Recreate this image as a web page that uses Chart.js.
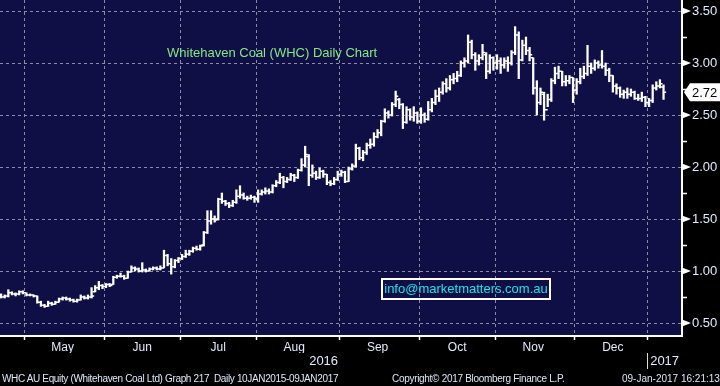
<!DOCTYPE html>
<html>
<head>
<meta charset="utf-8">
<script src="https://cdn.jsdelivr.net/npm/chart.js@4.4.0/dist/chart.umd.min.js"></script>
<style>
  html, body { margin: 0; padding: 0; background: #000; }
  #wrap { position: relative; width: 720px; height: 386px; overflow: hidden; background: #000; }
  #chart { display: block; }
  .txt { position: absolute; font-family: Arial, "Liberation Sans", sans-serif; white-space: nowrap; }
  #title { left: 167px; top: 45px; font-size: 13px; line-height: 16px; color: #84e884; }
  #info { left: 381px; top: 278px; width: 170px; height: 22px; box-sizing: border-box; border: 2px solid #fff;
          color: #1ee3e8; font-size: 13px; line-height: 18px; text-align: center; }
  .foot { top: 373px; font-size: 10px; line-height: 12px; color: #dfe6f6; }
</style>
</head>
<body>
<div id="wrap">
  <canvas id="chart" width="720" height="386"></canvas>
  <div id="title" class="txt">Whitehaven Coal (WHC) Daily Chart</div>
  <div id="info" class="txt">info@marketmatters.com.au</div>
  <div class="txt foot" style="left:2px; letter-spacing:-0.35px">WHC AU Equity (Whitehaven Coal Ltd) Graph 217&nbsp; Daily 10JAN2015-09JAN2017</div>
  <div class="txt foot" style="left:392px; letter-spacing:-0.3px">Copyright&copy; 2017 Bloomberg Finance L.P.</div>
  <div class="txt foot" style="left:622px">09-Jan-2017 16:21:13</div>
</div>
<script>
// daily bars, 20 Apr 2016 - 9 Jan 2017 (trading days)
const opens = [
  0.76, 0.75, 0.76, 0.79, 0.78, 0.78, 0.80, 0.79, 0.77, 0.77,
  0.76, 0.70, 0.67, 0.66, 0.69, 0.68, 0.70, 0.73, 0.74, 0.73,
  0.72, 0.71, 0.72, 0.75, 0.74, 0.75, 0.80, 0.84, 0.86, 0.85,
  0.87, 0.87, 0.94, 0.95, 0.95, 0.93, 0.99, 1.03, 1.02, 1.00,
  1.01, 1.00, 1.02, 1.03, 1.02, 1.03, 1.15, 1.07, 1.04, 1.10,
  1.12, 1.14, 1.16, 1.19, 1.22, 1.21, 1.25, 1.37, 1.48, 1.50,
  1.50, 1.69, 1.67, 1.65, 1.63, 1.66, 1.72, 1.73, 1.70, 1.70,
  1.71, 1.69, 1.74, 1.76, 1.77, 1.76, 1.82, 1.85, 1.90, 1.86,
  1.88, 1.92, 1.90, 1.97, 2.02, 2.10, 1.92, 1.94, 1.90, 1.96,
  1.93, 1.85, 1.84, 1.88, 1.93, 1.95, 1.86, 1.98, 2.01, 2.18,
  2.09, 2.14, 2.21, 2.22, 2.29, 2.33, 2.44, 2.52, 2.50, 2.60,
  2.65, 2.60, 2.43, 2.55, 2.48, 2.52, 2.44, 2.50, 2.46, 2.55,
  2.62, 2.68, 2.72, 2.80, 2.76, 2.84, 2.85, 2.88, 3.00, 3.02,
  3.20, 3.08, 3.02, 3.05, 3.08, 2.92, 3.05, 3.00, 3.02, 2.98,
  3.02, 3.00, 3.10, 3.27, 3.03, 3.17, 3.12, 3.05, 2.76, 2.62,
  2.70, 2.55, 2.65, 2.83, 2.90, 2.92, 2.82, 2.83, 2.86, 2.74,
  2.82, 2.87, 2.90, 2.97, 2.95, 3.00, 2.98, 2.97, 2.93, 2.88,
  2.78, 2.76, 2.70, 2.72, 2.70, 2.72, 2.66, 2.66, 2.67, 2.62,
  2.64, 2.76, 2.78, 2.77
];
const highs = [
  0.78, 0.77, 0.82, 0.80, 0.79, 0.81, 0.81, 0.79, 0.78, 0.77,
  0.76, 0.71, 0.68, 0.71, 0.70, 0.71, 0.74, 0.75, 0.75, 0.74,
  0.73, 0.73, 0.77, 0.76, 0.77, 0.84, 0.86, 0.90, 0.87, 0.88,
  0.88, 0.95, 0.96, 0.98, 0.96, 1.00, 1.05, 1.04, 1.03, 1.08,
  1.02, 1.03, 1.04, 1.04, 1.05, 1.20, 1.16, 1.12, 1.11, 1.13,
  1.16, 1.20, 1.20, 1.23, 1.24, 1.25, 1.38, 1.58, 1.58, 1.53,
  1.70, 1.75, 1.68, 1.66, 1.68, 1.78, 1.82, 1.75, 1.72, 1.73,
  1.72, 1.78, 1.78, 1.80, 1.79, 1.83, 1.87, 1.94, 1.91, 1.90,
  1.94, 1.93, 1.98, 2.08, 2.20, 2.12, 2.02, 1.96, 1.99, 1.97,
  1.93, 1.87, 1.90, 1.96, 1.97, 1.96, 2.00, 2.03, 2.22, 2.19,
  2.16, 2.23, 2.27, 2.33, 2.36, 2.45, 2.56, 2.54, 2.62, 2.73,
  2.66, 2.61, 2.58, 2.56, 2.58, 2.53, 2.57, 2.52, 2.63, 2.66,
  2.74, 2.76, 2.82, 2.85, 2.88, 2.90, 2.92, 3.02, 3.05, 3.27,
  3.22, 3.10, 3.08, 3.18, 3.10, 3.08, 3.06, 3.08, 3.05, 3.05,
  3.06, 3.12, 3.35, 3.30, 3.22, 3.25, 3.15, 3.05, 2.83, 2.76,
  2.72, 2.70, 2.85, 2.96, 2.97, 2.92, 2.88, 2.88, 2.86, 2.85,
  2.95, 2.97, 3.17, 3.00, 3.03, 3.02, 3.12, 3.00, 2.95, 2.88,
  2.80, 2.77, 2.74, 2.76, 2.75, 2.73, 2.70, 2.72, 2.68, 2.66,
  2.79, 2.82, 2.84, 2.79
];
const lows = [
  0.74, 0.74, 0.75, 0.77, 0.76, 0.77, 0.78, 0.76, 0.76, 0.75,
  0.69, 0.66, 0.65, 0.66, 0.67, 0.68, 0.70, 0.72, 0.72, 0.71,
  0.70, 0.70, 0.72, 0.73, 0.73, 0.74, 0.80, 0.82, 0.83, 0.84,
  0.85, 0.87, 0.93, 0.94, 0.92, 0.93, 0.99, 1.00, 0.99, 0.99,
  0.99, 1.00, 1.01, 1.01, 1.01, 1.03, 1.05, 0.97, 1.03, 1.08,
  1.11, 1.13, 1.15, 1.18, 1.20, 1.20, 1.24, 1.36, 1.45, 1.47,
  1.49, 1.65, 1.63, 1.61, 1.62, 1.65, 1.70, 1.69, 1.68, 1.69,
  1.66, 1.66, 1.73, 1.74, 1.74, 1.75, 1.81, 1.84, 1.80, 1.85,
  1.87, 1.86, 1.89, 1.96, 2.00, 1.82, 1.90, 1.88, 1.89, 1.90,
  1.83, 1.82, 1.83, 1.87, 1.91, 1.85, 1.86, 1.97, 2.00, 2.07,
  2.06, 2.12, 2.18, 2.20, 2.28, 2.30, 2.43, 2.47, 2.49, 2.58,
  2.56, 2.37, 2.42, 2.45, 2.44, 2.42, 2.42, 2.43, 2.45, 2.53,
  2.60, 2.63, 2.70, 2.72, 2.74, 2.80, 2.82, 2.87, 2.96, 3.00,
  3.04, 2.93, 2.98, 3.03, 2.85, 2.90, 2.93, 2.94, 2.90, 2.95,
  2.92, 2.98, 3.08, 2.85, 3.02, 3.08, 3.02, 2.70, 2.50, 2.60,
  2.45, 2.58, 2.63, 2.80, 2.85, 2.78, 2.78, 2.80, 2.62, 2.70,
  2.80, 2.85, 2.88, 2.90, 2.93, 2.95, 2.95, 2.88, 2.82, 2.72,
  2.70, 2.67, 2.66, 2.66, 2.68, 2.65, 2.64, 2.63, 2.58, 2.58,
  2.62, 2.74, 2.76, 2.65
];
const closes = [
  0.75, 0.76, 0.79, 0.78, 0.78, 0.80, 0.79, 0.77, 0.77, 0.76,
  0.70, 0.67, 0.66, 0.69, 0.68, 0.70, 0.73, 0.74, 0.73, 0.72,
  0.71, 0.72, 0.75, 0.74, 0.75, 0.76, 0.84, 0.86, 0.85, 0.87,
  0.86, 0.94, 0.95, 0.95, 0.93, 0.99, 1.03, 1.02, 1.00, 1.01,
  1.00, 1.02, 1.03, 1.02, 1.03, 1.15, 1.07, 1.04, 1.10, 1.12,
  1.14, 1.16, 1.19, 1.22, 1.21, 1.24, 1.37, 1.48, 1.50, 1.49,
  1.69, 1.67, 1.65, 1.63, 1.66, 1.72, 1.73, 1.70, 1.70, 1.71,
  1.70, 1.74, 1.76, 1.77, 1.76, 1.82, 1.85, 1.90, 1.86, 1.88,
  1.92, 1.90, 1.97, 2.02, 2.12, 1.92, 1.94, 1.90, 1.96, 1.93,
  1.85, 1.84, 1.88, 1.93, 1.95, 1.86, 1.98, 2.01, 2.18, 2.09,
  2.14, 2.21, 2.22, 2.29, 2.33, 2.44, 2.52, 2.50, 2.60, 2.68,
  2.60, 2.43, 2.55, 2.48, 2.52, 2.44, 2.50, 2.46, 2.55, 2.62,
  2.68, 2.72, 2.80, 2.76, 2.84, 2.85, 2.88, 3.00, 3.02, 3.20,
  3.08, 3.02, 3.05, 3.10, 2.92, 3.05, 3.00, 3.02, 2.98, 3.02,
  3.00, 3.10, 3.27, 3.03, 3.17, 3.12, 3.08, 2.76, 2.62, 2.72,
  2.55, 2.65, 2.83, 2.90, 2.92, 2.82, 2.83, 2.86, 2.74, 2.82,
  2.87, 2.90, 2.97, 2.95, 3.00, 2.98, 2.97, 2.93, 2.88, 2.78,
  2.76, 2.70, 2.72, 2.70, 2.72, 2.66, 2.66, 2.67, 2.62, 2.64,
  2.76, 2.78, 2.80, 2.72
];

// first trading day of each month (bar index) and its label
const monthStarts = [7, 29, 50, 71, 94, 116, 137, 159, 179];
const monthLabels = ['May', 'Jun', 'Jul', 'Aug', 'Sep', 'Oct', 'Nov', 'Dec', ''];
const yearLabels = ['2016', '2017'];
const yTicks = [0.50, 0.75, 1.00, 1.25, 1.50, 1.75, 2.00, 2.25, 2.50, 2.75, 3.00, 3.25, 3.50];

const X_MIN = -0.3;
const X_MAX = 188.1;
const GRID = '#8c8ca8';
const LABEL = '#e4eaff';
const FONT = 'Arial, "Liberation Sans", sans-serif';

const janLine = monthStarts[monthStarts.length - 1] - 0.5;
const yearTicks = [(X_MIN + janLine) / 2, janLine, (janLine + X_MAX) / 2];
const yearTickLabels = [yearLabels[0], '', yearLabels[1]];

const isMajor = v => Math.abs(v * 2 - Math.round(v * 2)) < 1e-6;

// no extra room for half labels at the edges
function noPad(s) {
  s.paddingTop = 0; s.paddingBottom = 0; s.paddingLeft = 0; s.paddingRight = 0;
}

const ohlcPlugin = {
  id: 'ohlc',
  beforeDraw(chart) {
    const { ctx, chartArea: a } = chart;
    ctx.save();
    ctx.fillStyle = '#0f0f45';
    ctx.fillRect(a.left, a.top, a.right - a.left, a.bottom - a.top);
    ctx.restore();
  },
  afterDatasetsDraw(chart) {
    const { ctx, scales: { x, y } } = chart;
    ctx.save();
    ctx.strokeStyle = '#fff';
    ctx.lineWidth = 1.5;
    ctx.beginPath();
    for (let i = 0; i < closes.length; i++) {
      const px = x.getPixelForValue(i);
      const yo = y.getPixelForValue(opens[i]);
      const yc = y.getPixelForValue(closes[i]);
      ctx.moveTo(px - 2.6, yo); ctx.lineTo(px, yo);
      ctx.moveTo(px, yc); ctx.lineTo(px + 2.6, yc);
    }
    ctx.stroke();
    ctx.restore();
  },
  afterDraw(chart) {
    const { ctx, chartArea: a, scales: { y } } = chart;
    ctx.save();
    // pointers on the labelled ticks
    ctx.fillStyle = '#fff';
    yTicks.filter(isMajor).forEach(v => {
      const py = y.getPixelForValue(v);
      ctx.beginPath();
      ctx.moveTo(a.right, py - 3.5);
      ctx.lineTo(a.right + 9, py);
      ctx.lineTo(a.right, py + 3.5);
      ctx.closePath();
      ctx.fill();
    });
    // last price tag
    const last = closes[closes.length - 1];
    const py = y.getPixelForValue(last);
    ctx.beginPath();
    ctx.moveTo(a.right + 2, py);
    ctx.lineTo(a.right + 8, py - 9);
    ctx.lineTo(720, py - 9);
    ctx.lineTo(720, py + 9);
    ctx.lineTo(a.right + 8, py + 9);
    ctx.closePath();
    ctx.fill();
    ctx.fillStyle = '#000';
    ctx.font = '13px ' + FONT;
    ctx.textBaseline = 'middle';
    ctx.fillText(last.toFixed(2), a.right + 10, py + 1);
    ctx.restore();
  }
};

const ranges = highs.map((h, i) => ({ x: i, y: [lows[i], h] }));

new Chart(document.getElementById('chart'), {
  type: 'bar',
  data: {
    datasets: [{
      data: ranges,
      backgroundColor: '#ffffff',
      borderWidth: 0,
      barThickness: 1.6
    }]
  },
  options: {
    responsive: false,
    animation: false,
    layout: { padding: { left: 0, top: 0, right: 0, bottom: 16 } },
    plugins: { legend: { display: false }, tooltip: { enabled: false } },
    scales: {
      x: {
        type: 'linear',
        position: 'bottom',
        min: X_MIN,
        max: X_MAX,
        offset: false,
        weight: 1,
        afterBuildTicks: s => { s.ticks = monthStarts.map(m => ({ value: m - 0.5 })); },
        afterFit: s => { s.height = 17; noPad(s); },
        grid: { offset: false, color: GRID, lineWidth: 1, tickColor: '#fff', tickLength: 4, tickWidth: 1.5 },
        border: { display: true, color: '#fff', width: 2, dash: [3, 3] },
        ticks: {
          callback: (v, i) => monthLabels[i] || '',
          autoSkip: false, maxRotation: 0, labelOffset: 38, padding: 0,
          color: LABEL, font: { family: FONT, size: 12 }
        }
      },
      xYear: {
        type: 'linear',
        position: 'bottom',
        min: X_MIN,
        max: X_MAX,
        offset: false,
        weight: 2,
        afterBuildTicks: s => { s.ticks = yearTicks.map(v => ({ value: v })); },
        afterFit: s => { s.height = 17; noPad(s); },
        grid: {
          offset: false, drawOnChartArea: false, tickLength: 16, tickWidth: 1,
          color: ctx => (ctx.tick && ctx.tick.value === janLine ? '#ddd' : 'rgba(0,0,0,0)'),
          tickColor: ctx => (ctx.tick && ctx.tick.value === janLine ? '#ddd' : 'rgba(0,0,0,0)')
        },
        border: { display: false },
        ticks: {
          callback: (v, i) => yearTickLabels[i],
          autoSkip: false, maxRotation: 0, padding: -15,
          color: LABEL, font: { family: FONT, size: 13 }
        }
      },
      y: {
        type: 'linear',
        position: 'right',
        min: 0.375,
        max: 3.606,
        afterBuildTicks: s => { s.ticks = yTicks.map(v => ({ value: v })); },
        afterFit: s => { s.width = 38; noPad(s); },
        grid: {
          color: ctx => (ctx.tick && isMajor(ctx.tick.value) ? GRID : 'rgba(0,0,0,0)'),
          tickColor: '#fff', tickLength: 5, tickWidth: 1.5
        },
        border: { display: true, color: '#fff', width: 2, dash: [3, 3] },
        ticks: {
          callback: v => (isMajor(v) ? v.toFixed(2) : ''),
          padding: 5, color: LABEL, font: { family: FONT, size: 13 }
        }
      }
    }
  },
  plugins: [ohlcPlugin]
});
</script>
</body>
</html>
